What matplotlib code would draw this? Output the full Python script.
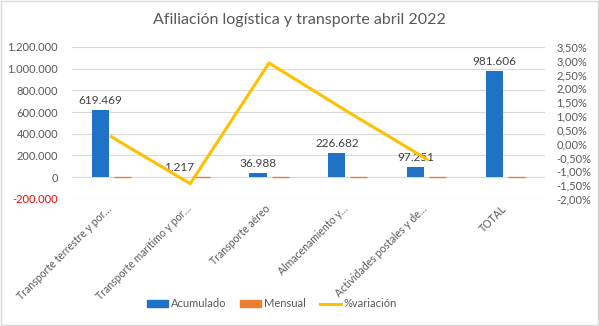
import numpy as np
import matplotlib.pyplot as plt
import matplotlib.transforms as mtransforms
from matplotlib.lines import Line2D
from matplotlib.patches import Patch

plt.rcParams['font.family'] = ['Lato', 'DejaVu Sans']

categories = ["Transporte terrestre y por…", "Transporte marítimo y por…", "Transporte aéreo",
              "Almacenamiento y…", "Actividades postales y de…", "TOTAL"]
acumulado = [619469, 1217, 36988, 226682, 97251, 981606]
mensual = [1549, -18, 1080, 2600, -545, 4666]
variacion = [0.25, -1.45, 2.92, 1.15, -0.56, np.nan]

blue = "#1F72C6"
orange = "#ED7D31"
yellow = "#FFC000"
grey = "#595959"


def miles(v):
    return f"{v:,.0f}".replace(",", ".")


fig = plt.figure(figsize=(5.99, 3.26), dpi=100)
ax = fig.add_axes([0.12, 0.39, 0.79, 0.466])
x = np.arange(len(categories))
w = 0.216

ax.bar(x - 0.14, acumulado, w, color=blue, zorder=3)
ax.bar(x + 0.14, mensual, w, color=orange, zorder=3, edgecolor=orange, linewidth=1.0)
for xi, v in zip(x, acumulado):
    ax.text(xi - 0.14, v + 35000, miles(v), ha="center", va="bottom", fontsize=8.5, color="#404040")

ax.set_ylim(-200000, 1200000)
ax.set_yticks(np.arange(-200000, 1200001, 200000))
ax.set_yticklabels([miles(t) for t in ax.get_yticks()])
ax.set_xlim(-0.5, len(categories) - 0.5)
ax.grid(axis="y", color="#d9d9d9", linewidth=0.8, zorder=0)
ax.set_axisbelow(True)
for s in ax.spines.values():
    s.set_visible(False)
ax.tick_params(axis="y", length=0, labelsize=8, labelcolor=grey, pad=10)
ax.get_yticklabels()[0].set_color("red")
ax.set_xticks(x)
ax.set_xticklabels(categories, rotation=45, ha="right", rotation_mode="anchor", fontsize=7.6, color=grey)
ax.tick_params(axis="x", length=0, pad=3)
shift = mtransforms.ScaledTranslation(-5 / 100, 0, fig.dpi_scale_trans)
for lbl in ax.get_xticklabels():
    lbl.set_transform(lbl.get_transform() + shift)

ax2 = ax.twinx()
ax2.plot(x, variacion, color=yellow, linewidth=2.2, zorder=4)
ax2.set_ylim(-2.0, 3.5)
ax2.set_yticks(np.arange(-2.0, 3.51, 0.5))
ax2.set_yticklabels([f"{t:.2f}%".replace(".", ",") for t in np.arange(-2.0, 3.51, 0.5)])
ax2.tick_params(axis="y", length=0, labelsize=8, labelcolor=grey, pad=8)
for s in ax2.spines.values():
    s.set_visible(False)

fig.suptitle("Afiliación logística y transporte abril 2022", y=0.96, fontsize=11.5, color=grey)

handles = [Patch(color=blue), Patch(color=orange), Line2D([], [], color=yellow, linewidth=2.2)]
fig.legend(handles, ["Acumulado", "Mensual", "%variación"], loc="center left",
           bbox_to_anchor=(0.228, 0.068), ncol=3, frameon=False, fontsize=8, labelcolor=grey,
           handlelength=1.9, handleheight=0.6, columnspacing=1.2, handletextpad=0.3)

fig.patches.append(plt.Rectangle((0.002, 0.003), 0.996, 0.994, transform=fig.transFigure,
                                 fill=False, edgecolor="#d9d9d9", linewidth=1))

fig.savefig("out.png", dpi=100)
